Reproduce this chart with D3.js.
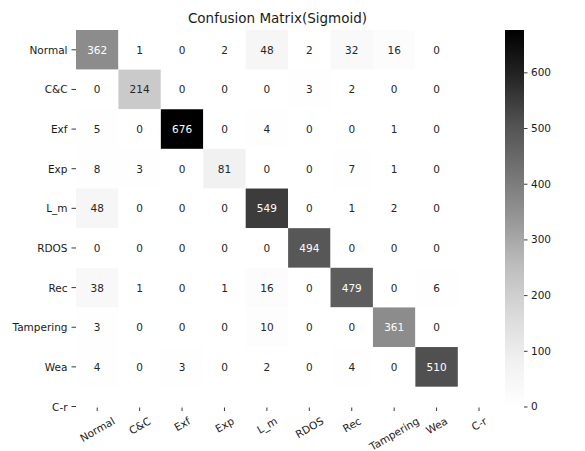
<!DOCTYPE html>
<html>
<head>
<meta charset="utf-8">
<script src="https://cdn.jsdelivr.net/npm/d3@7"></script>
<style>
  html, body { margin: 0; padding: 0; background: #fff; }
  svg { display: block; font-family: "DejaVu Sans", sans-serif; }
</style>
</head>
<body>
<svg id="chart" width="585" height="451"></svg>
<script>
// Class labels shown on both axes
const labels = ["Normal", "C&C", "Exf", "Exp", "L_m", "RDOS", "Rec", "Tampering", "Wea", "C-r"];

// Confusion matrix counts (rows: true class, columns: predicted class)
const rowNormal    = [362, 1, 0, 2, 48, 2, 32, 16, 0];
const rowCC        = [0, 214, 0, 0, 0, 3, 2, 0, 0];
const rowExf       = [5, 0, 676, 0, 4, 0, 0, 1, 0];
const rowExp       = [8, 3, 0, 81, 0, 0, 7, 1, 0];
const rowLm        = [48, 0, 0, 0, 549, 0, 1, 2, 0];
const rowRDOS      = [0, 0, 0, 0, 0, 494, 0, 0, 0];
const rowRec       = [38, 1, 0, 1, 16, 0, 479, 0, 6];
const rowTampering = [3, 0, 0, 0, 10, 0, 0, 361, 0];
const rowWea       = [4, 0, 3, 0, 2, 0, 4, 0, 510];
const matrix = [rowNormal, rowCC, rowExf, rowExp, rowLm, rowRDOS, rowRec, rowTampering, rowWea];

// Colorbar tick values
const colorbarTicks = [0, 100, 200, 300, 400, 500, 600];

const title = "Confusion Matrix(Sigmoid)";

const svg = d3.select("#chart");
const FONT = 10.5;

// The axes extend half a cell past the last data cell so that the last label gets a tick
const x = d3.scaleLinear().domain([0, 9.5]).range([76, 479]);
const y = d3.scaleLinear().domain([0, 9.5]).range([30, 406.5]);

const vmax = d3.max(matrix.flat());
const vmin = 0;

// Greys colour ramp (9 anchor colours, linear between them)
const greyStops = ["#ffffff", "#f0f0f0", "#d9d9d9", "#bdbdbd", "#969696", "#737373", "#525252", "#252525", "#000000"];
const ramp = d3.scaleLinear()
  .domain(greyStops.map((_, i) => i / (greyStops.length - 1)))
  .range(greyStops)
  .interpolate(d3.interpolateRgb)
  .clamp(true);
const color = v => ramp((v - vmin) / (vmax - vmin));

function luminance(c) {
  const rgb = d3.rgb(c);
  const lin = u => { u /= 255; return u <= 0.03928 ? u / 12.92 : Math.pow((u + 0.055) / 1.055, 2.4); };
  return 0.2126 * lin(rgb.r) + 0.7152 * lin(rgb.g) + 0.0722 * lin(rgb.b);
}

// Cells
const cells = [];
matrix.forEach((row, i) => row.forEach((v, j) => cells.push({ i, j, v })));

const g = svg.append("g");
g.selectAll("rect.cell")
  .data(cells)
  .join("rect")
  .attr("class", "cell")
  .attr("x", d => x(d.j))
  .attr("y", d => y(d.i))
  .attr("width", d => x(d.j + 1) - x(d.j))
  .attr("height", d => y(d.i + 1) - y(d.i))
  .attr("fill", d => color(d.v));

g.selectAll("text.annot")
  .data(cells)
  .join("text")
  .attr("class", "annot")
  .attr("x", d => x(d.j + 0.5))
  .attr("y", d => y(d.i + 0.5))
  .attr("text-anchor", "middle")
  .attr("dominant-baseline", "central")
  .attr("font-size", FONT)
  .attr("fill", d => luminance(color(d.v)) > 0.408 ? "#262626" : "#ffffff")
  .text(d => d.v);

// Y axis: ticks and labels
const yTicks = svg.append("g");
labels.forEach((lab, i) => {
  const yy = y(i + 0.5);
  yTicks.append("line")
    .attr("x1", x(0) - 4.5).attr("x2", x(0))
    .attr("y1", yy).attr("y2", yy)
    .attr("stroke", "#222").attr("stroke-width", 0.9);
  yTicks.append("text")
    .attr("x", x(0) - 8.5)
    .attr("y", yy)
    .attr("text-anchor", "end")
    .attr("dominant-baseline", "central")
    .attr("font-size", FONT)
    .attr("fill", "#1a1a1a")
    .text(lab);
});

// X axis: ticks and rotated labels (bounding box centred under each tick)
const xTicks = svg.append("g");
const axisBottom = y(9.5);
const angle = 30 * Math.PI / 180;
labels.forEach((lab, j) => {
  const xx = x(j + 0.5);
  xTicks.append("line")
    .attr("x1", xx).attr("x2", xx)
    .attr("y1", axisBottom + 1).attr("y2", axisBottom + 4.5)
    .attr("stroke", "#222").attr("stroke-width", 0.9);
  const t = xTicks.append("text")
    .attr("text-anchor", "middle")
    .attr("dominant-baseline", "central")
    .attr("font-size", FONT)
    .attr("fill", "#1a1a1a")
    .text(lab);
  const w = t.node().getComputedTextLength();
  const h = FONT * 1.16;
  const H = w * Math.sin(angle) + h * Math.cos(angle);
  const cy = axisBottom + 8 + H / 2;
  t.attr("x", 0).attr("y", 0)
    .attr("transform", `translate(${xx},${cy}) rotate(-30)`);
});

// Title
svg.append("text")
  .attr("x", (x(0) + x(9.5)) / 2)
  .attr("y", 23)
  .attr("text-anchor", "middle")
  .attr("font-size", 13.5)
  .attr("fill", "#1a1a1a")
  .text(title);

// Colorbar
const cbX = 505, cbW = 19;
const cbScale = d3.scaleLinear().domain([vmin, vmax]).range([406.5, 30]);
const defs = svg.append("defs");
const grad = defs.append("linearGradient")
  .attr("id", "cbGrad")
  .attr("x1", 0).attr("y1", 1).attr("x2", 0).attr("y2", 0);
greyStops.forEach((c, i) => {
  grad.append("stop")
    .attr("offset", i / (greyStops.length - 1))
    .attr("stop-color", c);
});
svg.append("rect")
  .attr("x", cbX)
  .attr("y", cbScale(vmax))
  .attr("width", cbW)
  .attr("height", cbScale(vmin) - cbScale(vmax))
  .attr("fill", "url(#cbGrad)");

const cbAxis = svg.append("g")
  .attr("transform", `translate(${cbX + cbW},0)`)
  .call(d3.axisRight(cbScale).tickValues(colorbarTicks).tickSize(3.5).tickPadding(3.5));
cbAxis.select(".domain").remove();
cbAxis.selectAll(".tick line").attr("stroke", "#222").attr("stroke-width", 0.9);
cbAxis.selectAll(".tick text")
  .attr("font-size", FONT)
  .attr("font-family", "DejaVu Sans, sans-serif")
  .attr("fill", "#1a1a1a");
</script>
</body>
</html>
